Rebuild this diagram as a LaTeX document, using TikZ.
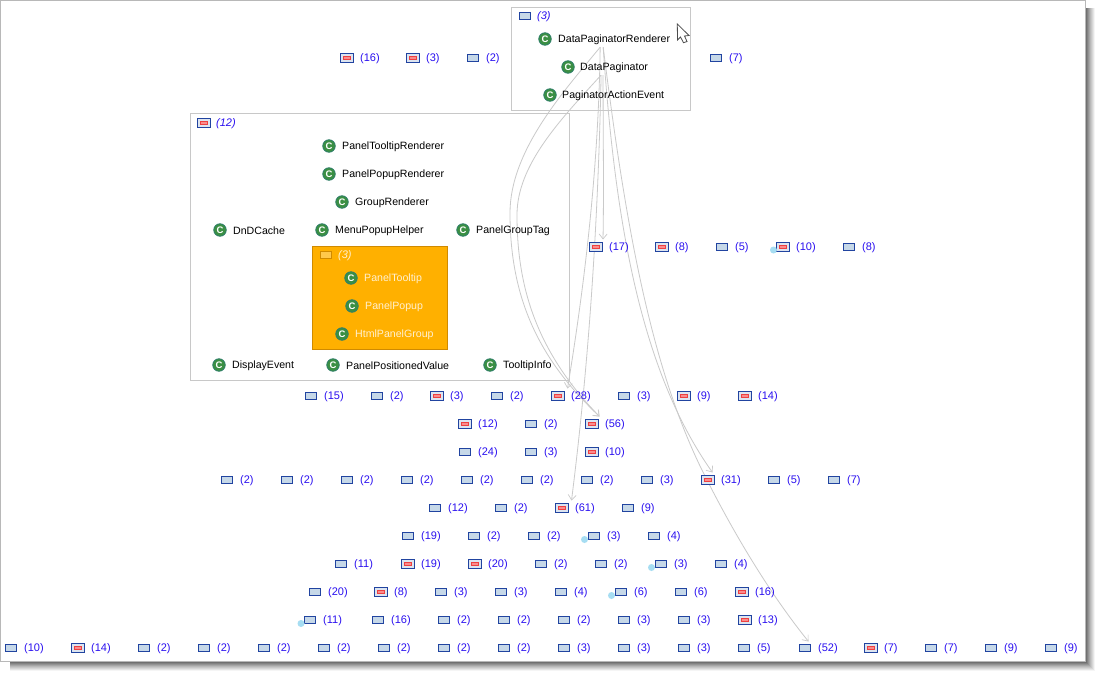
\documentclass[tikz,border=0pt]{standalone}
\usepackage{fontspec}
\setmainfont{Liberation Sans}
\usetikzlibrary{arrows.meta}
\pgfdeclarelayer{pagelayer}
\pgfdeclarelayer{connlayer}
\pgfsetlayers{pagelayer,connlayer,main}
\definecolor{pkborder}{HTML}{2144A0}
\definecolor{pkfill}{HTML}{C6D8E8}
\definecolor{pkfilllight}{HTML}{DCE4F0}
\definecolor{redin}{HTML}{FA8C8C}
\definecolor{redbd}{HTML}{EE4040}
\definecolor{countblue}{HTML}{2A10F0}
\definecolor{framegray}{HTML}{C8C8C8}
\definecolor{connecgray}{HTML}{CACACA}
\definecolor{classgreen}{HTML}{3B8F43}
\definecolor{classrim}{HTML}{2F7F6A}
\definecolor{selorange}{HTML}{FFB000}
\definecolor{selborder}{HTML}{D08A00}
\definecolor{seltext}{HTML}{FFF0D0}
\definecolor{dotblue}{HTML}{A6DDF2}
\tikzset{
  x=1pt,y=-1pt,
  plainpk/.style={draw=pkborder,fill=pkfill,line width=1pt,rectangle,minimum width=11pt,minimum height=7pt,inner sep=0pt,outer sep=3pt},
  redpk/.style={draw=pkborder,fill=pkfilllight,line width=1pt,rectangle,minimum width=13pt,minimum height=9pt,inner sep=0pt,outer sep=3pt,
    path picture={\draw[draw=redbd,fill=redin,line width=.8pt] ([shift={(-3.5pt,-1.7pt)}]path picture bounding box.center) rectangle ([shift={(3.5pt,1.7pt)}]path picture bounding box.center);}},
  seltoppk/.style={draw=selborder,fill=selorange!70!white,line width=1pt,rectangle,minimum width=11pt,minimum height=7pt,inner sep=0pt},
  countlabel/.style={anchor=west,inner sep=0pt,yshift=-1pt,text=countblue,font=\fontsize{11}{12}\selectfont},
  headlabel/.style={countlabel,font=\fontsize{11}{12}\selectfont\itshape},
  clsicon/.style={circle,fill=classgreen,draw=classrim,line width=.8pt,minimum size=12.5pt,inner sep=0pt,text=white,font=\fontsize{9.5}{10}\selectfont\bfseries},
  clslabel/.style={anchor=west,inner sep=0pt,yshift=-1pt,text=black,font=\fontsize{10.6}{12}\selectfont},
  sellabel/.style={clslabel,text=seltext},
  groupbox/.style={draw=framegray,line width=1pt,rectangle,inner sep=0pt},
  selbox/.style={draw=selborder,fill=selorange,line width=1pt,rectangle,inner sep=0pt},
  conn/.style={draw=connecgray,line width=.8pt,-{Straight Barb[length=5pt,width=8pt,line width=.7pt]}},
  bluedot/.style={circle,fill=dotblue,inner sep=0pt,minimum size=7pt},
}
\newcommand{\pkrow}[2]{\foreach[count=\i] \x/\c/\s in {#2} {
  \node[\s] (r#1-\i) at (\x,#1) {};
  \node[countlabel,xshift=13pt] (t#1-\i) at (\x,#1) {(\c)};}}
\newcommand{\cls}[6][clslabel]{% style, name, icon x, label x, y, text
  \node[clsicon] (i#2) at (#3,#5) {C};
  \node[#1] (#2) at (#4,#5) {#6};}
\begin{document}
\begin{tikzpicture}
\useasboundingbox (0,0) rectangle (1101,677);
\begin{pgfonlayer}{pagelayer}
  \fill[white] (0,0) rectangle (1101,677);
  \foreach \d/\g in {10/4,9/10,8/16,7/22,6/28,5/35,4/42,3/49,2/56,1/62,0/66}
    \fill[black!\g] (10,8) rectangle (1085+\d,661+\d);
  \draw[draw=black!28,fill=white,line width=1pt] (0.5,0.5) rectangle (1085,661);
\end{pgfonlayer}

% group boxes
\node[groupbox,minimum width=179pt,minimum height=102.5pt] (topbox) at (601,58.75) {};
\node[groupbox,minimum width=379pt,minimum height=266.5pt] (panelbox) at (380,246.75) {};
\node[selbox,minimum width=135pt,minimum height=103pt] (selbox) at (380,297.5) {};

% group headers
\node[plainpk] (htop) at (525,16) {};
\node[headlabel] (htopt) at (537,16) {(3)};
\node[redpk] (hpanel) at (204,123) {};
\node[headlabel] (hpanelt) at (216,123) {(12)};
\node[seltoppk] (hsel) at (326,255) {};
\node[headlabel,text=seltext] (hselt) at (338,255) {(3)};

% classes
\cls{dpr}{545}{558}{39}{DataPaginatorRenderer}
\cls{dp}{568}{580}{67}{DataPaginator}
\cls{pae}{550}{562}{95}{PaginatorActionEvent}
\cls{ptr}{329}{342}{146}{PanelTooltipRenderer}
\cls{ppr}{329}{342}{174}{PanelPopupRenderer}
\cls{gr}{342}{355}{202}{GroupRenderer}
\cls{dnd}{220}{233}{230}{DnDCache}
\cls{mph}{322}{335}{230}{MenuPopupHelper}
\cls{pgt}{463}{476}{230}{PanelGroupTag}
\cls[sellabel]{ptt}{351}{364}{278}{PanelTooltip}
\cls[sellabel]{ppp}{352}{365}{306}{PanelPopup}
\cls[sellabel]{hpg}{342}{355}{334}{HtmlPanelGroup}
\cls{dev}{219}{232}{365}{DisplayEvent}
\cls{ppv}{333}{346}{365}{PanelPositionedValue}
\cls{tti}{490}{503}{365}{TooltipInfo}

% package rows
\pkrow{58}{347/16/redpk,413/3/redpk,473/2/plainpk,716/7/plainpk}
\pkrow{247}{596/17/redpk,662/8/redpk,722/5/plainpk,783/10/redpk,849/8/plainpk}
\pkrow{396}{311/15/plainpk,377/2/plainpk,437/3/redpk,497/2/plainpk,558/28/redpk,624/3/plainpk,684/9/redpk,745/14/redpk}
\pkrow{424}{465/12/redpk,531/2/plainpk,592/56/redpk}
\pkrow{452}{465/24/plainpk,531/3/plainpk,592/10/redpk}
\pkrow{480}{227/2/plainpk,287/2/plainpk,347/2/plainpk,407/2/plainpk,467/2/plainpk,527/2/plainpk,587/2/plainpk,647/3/plainpk,708/31/redpk,774/5/plainpk,834/7/plainpk}
\pkrow{508}{435/12/plainpk,501/2/plainpk,562/61/redpk,628/9/plainpk}
\pkrow{536}{408/19/plainpk,474/2/plainpk,534/2/plainpk,594/3/plainpk,654/4/plainpk}
\pkrow{564}{341/11/plainpk,408/19/redpk,475/20/redpk,541/2/plainpk,601/2/plainpk,661/3/plainpk,721/4/plainpk}
\pkrow{592}{315/20/plainpk,381/8/redpk,441/3/plainpk,501/3/plainpk,561/4/plainpk,621/6/plainpk,681/6/plainpk,742/16/redpk}
\pkrow{620}{310/11/plainpk,378/16/plainpk,444/2/plainpk,504/2/plainpk,564/2/plainpk,624/3/plainpk,684/3/plainpk,745/13/redpk}
\pkrow{648}{11/10/plainpk,78/14/redpk,144/2/plainpk,204/2/plainpk,264/2/plainpk,324/2/plainpk,384/2/plainpk,444/2/plainpk,504/2/plainpk,564/3/plainpk,624/3/plainpk,684/3/plainpk,744/5/plainpk,805/52/plainpk,871/7/redpk,931/7/plainpk,991/9/plainpk,1051/9/plainpk}

% status dots
\node[bluedot] (dot1) at (773.5,250) {};
\node[bluedot] (dot2) at (584.5,539.5) {};
\node[bluedot] (dot3) at (651.5,567.5) {};
\node[bluedot] (dot4) at (611.5,595.5) {};
\node[bluedot] (dot5) at (301,623.5) {};

% connectors
\begin{pgfonlayer}{connlayer}
  \coordinate (s1) at ([xshift=-14pt,yshift=-2pt]dpr.south);
  \coordinate (s1b) at ([xshift=-11pt,yshift=-2pt]dpr.south);
  \coordinate (s2) at ([xshift=-13pt,yshift=-2pt]dp.south);
  \coordinate (s2b) at ([xshift=-11pt,yshift=-2pt]dp.south);
  \draw[conn] (s1) .. controls (565,90) and (510,150) .. (510,213) .. controls (510,300) and (540,360) .. ([xshift=-2pt]r424-3.north east);
  \draw[conn] (s2) .. controls (560,120) and (517,165) .. (517,215) .. controls (517,285) and (535,350) .. ([xshift=-2pt]r424-3.north east);
  \draw[conn] (s1) .. controls (599,130) and (592,240) .. (r396-5.north east);
  \draw[conn] (s2) .. controls (598,230) and (588,370) .. (r508-3.north east);
  \draw[conn] (s2b) .. controls (603,130) and (604,190) .. ([xshift=-2.5pt]r247-1.north east);
  \draw[conn] (s1b) .. controls (615,220) and (640,370) .. ([xshift=-5pt]r480-9.north east);
  \draw[conn] (s1b) .. controls (625,220) and (650,370) .. (707,480) .. controls (740,545) and (775,600) .. ([xshift=3.5pt]r648-14.north);
\end{pgfonlayer}

% mouse pointer
\draw[draw=black!70,fill=white,line width=.8pt,line join=miter] (677.3,24) -- (689,35.5) -- (684.5,36) -- (687,41.5) -- (683.5,42.7) -- (680.5,37) -- (677.5,40) -- cycle;
\end{tikzpicture}
\end{document}
